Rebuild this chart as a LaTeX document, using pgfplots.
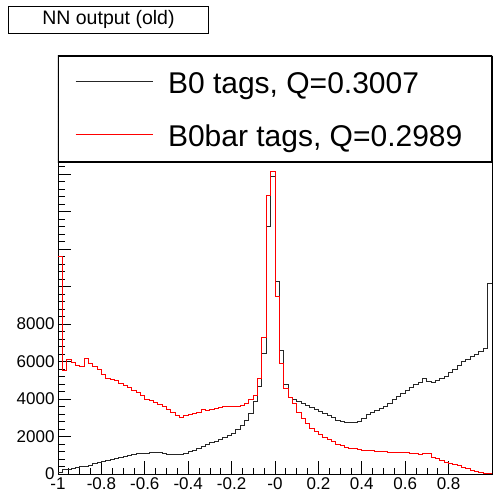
\documentclass[border=0pt]{standalone}
\usepackage{fontspec}
\setmainfont{Liberation Sans}
\usepackage{pgfplots}
\pgfplotsset{compat=1.18}
\usepackage{pgfplotstable}

\pgfplotstableread{
x y
-1.00 100
-0.98 230
-0.96 260
-0.94 290
-0.92 330
-0.90 380
-0.88 420
-0.86 480
-0.84 540
-0.82 600
-0.80 650
-0.78 710
-0.76 780
-0.74 840
-0.72 900
-0.70 950
-0.68 1000
-0.66 1040
-0.64 1080
-0.62 1100
-0.60 1120
-0.58 1140
-0.56 1150
-0.54 1140
-0.52 1120
-0.50 1060
-0.48 1030
-0.46 1020
-0.44 1060
-0.42 1120
-0.40 1200
-0.38 1280
-0.36 1380
-0.34 1480
-0.32 1570
-0.30 1660
-0.28 1750
-0.26 1850
-0.24 1950
-0.22 2050
-0.20 2180
-0.18 2350
-0.16 2600
-0.14 2880
-0.12 3240
-0.10 3860
-0.08 4660
-0.06 6440
-0.04 13190
-0.02 15860
0.00 10260
0.02 6610
0.04 4750
0.06 4080
0.08 3950
0.10 3850
0.12 3750
0.14 3650
0.16 3550
0.18 3450
0.20 3330
0.22 3230
0.24 3120
0.26 3000
0.28 2850
0.30 2790
0.32 2760
0.34 2750
0.36 2760
0.38 2780
0.40 2950
0.42 3150
0.44 3300
0.46 3400
0.48 3500
0.50 3600
0.52 3750
0.54 3950
0.56 4120
0.58 4300
0.60 4450
0.62 4600
0.64 4750
0.66 4900
0.68 5100
0.70 4950
0.72 4870
0.74 5000
0.76 5100
0.78 5200
0.80 5400
0.82 5600
0.84 5800
0.86 6000
0.88 6100
0.90 6250
0.92 6400
0.94 6550
0.96 6700
0.98 10170
1.00 10170
}\blackdata

\pgfplotstableread{
x y
-1.00 11600
-0.98 5500
-0.96 6100
-0.94 5950
-0.92 5800
-0.90 5750
-0.88 6150
-0.86 5900
-0.84 5750
-0.82 5550
-0.80 5300
-0.78 5100
-0.76 5050
-0.74 5000
-0.72 4850
-0.70 4700
-0.68 4600
-0.66 4480
-0.64 4330
-0.62 4180
-0.60 4000
-0.58 3900
-0.56 3800
-0.54 3700
-0.52 3600
-0.50 3450
-0.48 3300
-0.46 3100
-0.44 3000
-0.42 3100
-0.40 3150
-0.38 3250
-0.36 3300
-0.34 3450
-0.32 3400
-0.30 3450
-0.28 3500
-0.26 3550
-0.24 3580
-0.22 3600
-0.20 3600
-0.18 3620
-0.16 3680
-0.14 3750
-0.12 3950
-0.10 4200
-0.08 5100
-0.06 7300
-0.04 14880
-0.02 16120
0.00 9490
0.02 5900
0.04 4570
0.06 4100
0.08 3750
0.10 3300
0.12 2950
0.14 2700
0.16 2450
0.18 2250
0.20 2100
0.22 1950
0.24 1850
0.26 1720
0.28 1600
0.30 1500
0.32 1420
0.34 1380
0.36 1340
0.38 1300
0.40 1280
0.42 1260
0.44 1230
0.46 1200
0.48 1190
0.50 1180
0.52 1160
0.54 1150
0.56 1150
0.58 1150
0.60 1150
0.62 1120
0.64 1080
0.66 1020
0.68 1080
0.70 1080
0.72 900
0.74 820
0.76 700
0.78 640
0.80 580
0.82 520
0.84 440
0.86 350
0.88 280
0.90 200
0.92 150
0.94 100
0.96 50
0.98 20
1.00 20
}\reddata

\begin{document}
\begin{tikzpicture}[x=1pt,y=1pt]
\useasboundingbox (0,0) rectangle (493,496);
\node[draw, line width=0.9pt, minimum width=200pt, minimum height=27pt, anchor=north west, inner sep=0pt,
  font=\fontsize{19.5}{22}\selectfont] at (8,490) {NN output (old)};
\begin{axis}[
  at={(58pt,22pt)}, anchor=south west, scale only axis,
  width=434pt, height=418pt,
  xmin=-1, xmax=1, ymin=0, ymax=22300,
  axis line style={line width=0.9pt},
  tick align=inside, xtick pos=bottom, ytick pos=left,
  xtick={-1,-0.8,-0.6,-0.4,-0.2,0,0.2,0.4,0.6,0.8},
  xticklabels={-1,-0.8,-0.6,-0.4,-0.2,-0,0.2,0.4,0.6,0.8},
  minor x tick num=3,
  ytick={0,2000,4000,6000,8000,10000,12000,14000,16000,18000,20000,22000},
  yticklabels={0,2000,4000,6000,8000,{},{},{},{},{},{},{}},
  minor y tick num=4,
  scaled y ticks=false,
  major tick length=13pt, minor tick length=6.5pt,
  tick style={black, line width=0.8pt},
  ticklabel style={font=\fontsize{17}{20}\selectfont},
  legend style={at={(0.0392,0.9605)}, anchor=north west, draw=none, fill=none,
    inner sep=0pt, outer sep=0pt, column sep=15pt, row sep=30pt,
    font=\fontsize{30}{36}\selectfont, nodes={inner sep=0pt}},
  legend cell align=left,
  legend image code/.code={\draw[#1, line width=1pt] (0pt,2pt) -- (77pt,2pt);},
]
\addplot[const plot, black!85, line width=1pt] table {\blackdata};
\addlegendentry{B0 tags, Q=0.3007}
\addplot[const plot, red, line width=1pt] table {\reddata};
\addlegendentry{B0bar tags, Q=0.2989}
\draw[line width=1.1pt, fill=white] (rel axis cs:0,1) rectangle (rel axis cs:1,0.7464);
\end{axis}
\end{tikzpicture}
\end{document}
